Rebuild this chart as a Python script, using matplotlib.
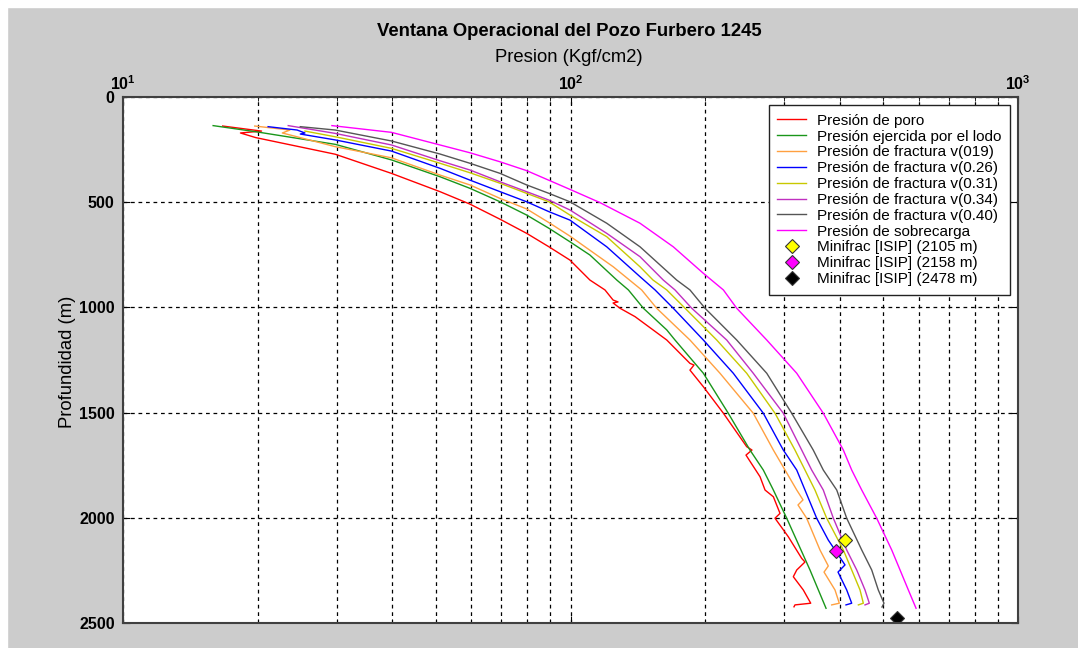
import matplotlib
matplotlib.use("Agg")
import matplotlib.pyplot as plt
from matplotlib.patches import Rectangle
from matplotlib.ticker import LogLocator, LogFormatterMathtext, NullFormatter

plt.rcParams['font.family'] = ['Liberation Sans', 'DejaVu Sans']

# Presion (Kgf/cm2) vs profundidad (m) para cada curva
poro_p = [16.7, 20.4, 18.3, 19.8, 29.8, 39.8, 51.1, 59.6, 69.6, 79.8, 89.5, 99.7, 110.5,
          119.4, 124.5, 127.7, 124.5, 129.0, 139.4, 164.1, 184.9, 188.8, 184.9, 198.1,
          219.6, 247.6, 254.4, 246.7, 265.2, 272.1, 284.0, 293.9, 286.4, 306.7, 328.6,
          334.2, 320.3, 314.7, 331.3, 344.2, 317.4, 315.8]
poro_d = [138, 162, 171, 193, 272, 363, 450, 509, 581, 648, 712, 775, 870,
          917, 965, 974, 979, 1004, 1044, 1155, 1266, 1274, 1298, 1377,
          1503, 1662, 1678, 1702, 1805, 1868, 1900, 1979, 2002, 2090, 2193,
          2210, 2248, 2280, 2343, 2406, 2414, 2423]

lodo_p = [15.9, 19.8, 29.8, 39.8, 51.1, 59.6, 69.6, 79.8, 89.5, 99.7, 110.5, 126.9,
          134.7, 145.5, 164.1, 171.2, 198.1, 225.2, 251.8, 269.7, 284.0, 304.2, 342.9, 372.4]
lodo_d = [136, 165, 225, 299, 379, 434, 498, 561, 624, 688, 751, 870,
          917, 1004, 1107, 1155, 1313, 1503, 1678, 1773, 1868, 2002, 2248, 2430]

f019_p = [19.7, 23.6, 22.7, 29.8, 39.8, 51.1, 59.6, 69.6, 79.8, 89.5, 99.7, 124.6,
          144.2, 155.8, 184.9, 215.8, 256.1, 284.0, 301.6, 320.3, 330.8, 322.4, 337.1,
          361.0, 376.8, 368.6, 390.0, 398.7, 383.4]
f019_d = [138, 157, 171, 236, 289, 371, 418, 482, 532, 597, 661, 807,
          917, 1004, 1155, 1313, 1503, 1678, 1773, 1868, 1915, 1939, 2002,
          2153, 2229, 2258, 2343, 2406, 2414]

f026_p = [21.1, 24.5, 25.5, 24.9, 29.8, 39.8, 51.1, 59.6, 69.6, 79.8, 89.5, 99.7, 120.5,
          143.0, 154.5, 169.7, 198.1, 231.1, 269.7, 298.9, 320.3, 334.2, 354.9, 376.8,
          390.0, 410.6, 396.1, 414.2, 425.0, 412.7]
f026_d = [141, 157, 171, 176, 204, 257, 339, 395, 450, 498, 545, 585, 712,
          854, 917, 1004, 1155, 1313, 1503, 1678, 1773, 1868, 2002, 2106,
          2153, 2224, 2258, 2343, 2406, 2414]

f031_p = [25.5, 29.8, 39.8, 51.1, 59.6, 69.6, 79.8, 89.5, 99.7, 120.5, 143.0, 152.9,
          164.1, 180.3, 212.2, 247.6, 286.4, 317.4, 334.2, 351.8, 373.7, 407.1, 425.0,
          443.6, 451.2, 439.8]
f031_d = [162, 189, 244, 315, 360, 410, 458, 498, 561, 664, 807, 870,
          917, 1004, 1155, 1313, 1503, 1678, 1773, 1868, 2002, 2153, 2248,
          2343, 2406, 2414]

f034_p = [23.4, 28.3, 29.8, 39.8, 51.1, 59.6, 69.6, 79.8, 89.5, 99.7, 120.5, 143.0,
          161.2, 171.2, 186.6, 223.4, 256.1, 298.9, 328.6, 345.9, 367.2, 386.7, 414.2,
          436.1, 455.1, 465.3, 455.1]
f034_d = [136, 165, 173, 228, 303, 347, 403, 450, 490, 537, 648, 759,
          870, 917, 1004, 1155, 1313, 1503, 1678, 1773, 1868, 2002, 2153,
          2248, 2343, 2406, 2414]

f040_p = [24.9, 29.8, 39.8, 51.1, 59.6, 69.6, 79.8, 89.5, 99.7, 120.5, 143.0, 172.7,
          184.9, 199.8, 235.2, 274.5, 312.1, 348.7, 367.2, 393.5, 414.2, 447.5, 471.1,
          487.3, 501.8, 496.7]
f040_d = [141, 157, 209, 271, 315, 363, 418, 458, 498, 600, 712, 870,
          917, 1004, 1155, 1313, 1503, 1678, 1773, 1868, 2002, 2153, 2248,
          2343, 2406, 2424]

sobre_p = [29.3, 39.8, 51.1, 59.6, 69.6, 79.8, 99.7, 116.4, 143.0, 169.7, 198.1, 219.6,
           235.2, 274.5, 320.3, 367.2, 407.1, 425.0, 447.5, 483.3, 522.2, 545.0, 568.8, 591.8]
sobre_d = [136, 168, 228, 265, 308, 350, 439, 502, 600, 712, 838, 917,
           1004, 1155, 1313, 1503, 1678, 1773, 1868, 2002, 2153, 2248, 2343, 2430]

# Minifrac ISIP
isip_p = [410.6, 391.4, 535.7]
isip_d = [2105, 2158, 2478]
isip_colors = ['#ffff00', '#ff00ff', '#000000']

labels = ['Presión de poro', 'Presión ejercida por el lodo', 'Presión de fractura v(019)',
          'Presión de fractura v(0.26)', 'Presión de fractura v(0.31)',
          'Presión de fractura v(0.34)', 'Presión de fractura v(0.40)',
          'Presión de sobrecarga']
colors = ['#ff0000', '#1a961a', '#ffa040', '#0000ff', '#c8c800', '#c030c0', '#555555', '#ff00ff']

fig = plt.figure(figsize=(10.78, 6.48), dpi=100, facecolor='#cccccc')
fig.patches.append(Rectangle((0, 1 - 7 / 648), 1, 7 / 648, transform=fig.transFigure,
                             color='white', zorder=0))
fig.patches.append(Rectangle((0, 0), 7 / 1078, 1, transform=fig.transFigure,
                             color='white', zorder=0))

ax = fig.add_axes([123 / 1078, 25 / 648, 895 / 1078, 526 / 648])
ax.set_facecolor('white')

series = [(poro_p, poro_d), (lodo_p, lodo_d), (f019_p, f019_d), (f026_p, f026_d),
          (f031_p, f031_d), (f034_p, f034_d), (f040_p, f040_d), (sobre_p, sobre_d)]
for (p, d), lab, c in zip(series, labels, colors):
    ax.plot(p, d, color=c, lw=1.0, label=lab)

for p, d, c in zip(isip_p, isip_d, isip_colors):
    ax.plot(p, d, linestyle='none', marker='D', markersize=7, markerfacecolor=c,
            markeredgecolor='#333333', markeredgewidth=0.8,
            label=f'Minifrac [ISIP] ({d} m)')

ax.set_xscale('log')
ax.set_xlim(10, 1000)
ax.set_ylim(2500, 0)
ax.set_yticks([0, 500, 1000, 1500, 2000, 2500])
ax.xaxis.set_major_locator(LogLocator(base=10))
ax.xaxis.set_major_formatter(LogFormatterMathtext())
ax.xaxis.set_minor_locator(LogLocator(base=10, subs=range(2, 10)))
ax.xaxis.set_minor_formatter(NullFormatter())

ax.xaxis.tick_top()
ax.tick_params(axis='both', which='both', direction='in', top=True, bottom=True,
               left=True, right=True, labeltop=True, labelbottom=False)
ax.tick_params(axis='y', which='major', length=5, labelsize=11.5, pad=6)
ax.tick_params(axis='x', which='major', length=5, labelsize=11.5, pad=3)
ax.tick_params(axis='x', which='minor', length=3)
for t in ax.get_xticklabels() + ax.get_yticklabels():
    t.set_fontweight('bold')

ax.grid(True, which='major', axis='both', color='black', linestyle=(0, (3, 3)), lw=0.9)
ax.grid(True, which='minor', axis='x', color='black', linestyle=(0, (3, 3)), lw=0.9)

for s in ax.spines.values():
    s.set_color('#404040')
    s.set_linewidth(1.5)

fig.text(0.528, 1 - 31 / 648, 'Ventana Operacional del Pozo Furbero 1245',
         ha='center', va='center', fontsize=13.3, fontweight='bold')
fig.text(0.528, 1 - 58 / 648, 'Presion (Kgf/cm2)', ha='center', va='center', fontsize=13.3)
fig.text(67 / 1078, 1 - 362 / 648, 'Profundidad (m)', ha='center', va='center',
         rotation=90, fontsize=13.3)

leg = ax.legend(loc='upper right', fontsize=11, frameon=True, fancybox=False,
                edgecolor='#222222', framealpha=1, borderaxespad=0.55,
                labelspacing=0.12, handlelength=1.9, handletextpad=0.7,
                borderpad=0.55)
leg.get_frame().set_linewidth(1.0)

fig.savefig('out.png', dpi=100, facecolor=fig.get_facecolor())
